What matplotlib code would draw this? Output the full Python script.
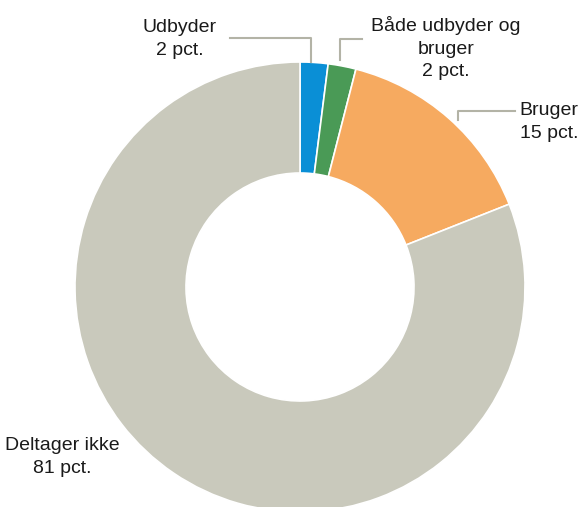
import matplotlib
matplotlib.use("Agg")
import matplotlib.pyplot as plt
from matplotlib import font_manager

labels = ["Udbyder", "Både udbyder og\nbruger", "Bruger", "Deltager ikke"]
values = [2, 2, 15, 81]
colors = ["#0a8fd6", "#4a9a56", "#f6aa60", "#c9c9bc"]

names = [f.name for f in font_manager.fontManager.ttflist]
fam = "Liberation Sans Narrow" if "Liberation Sans Narrow" in names else "Liberation Sans"
plt.rcParams["font.family"] = [fam, "DejaVu Sans"]

fig = plt.figure(figsize=(5.82, 5.07), dpi=100)
ax = fig.add_axes([0, 0, 1, 1])
H = 507
cx, cy, R = 300, H - 287, 225

ax.pie(values, colors=colors, startangle=90, counterclock=False,
       center=(cx, cy), radius=R,
       wedgeprops=dict(width=R - 114, edgecolor="white", linewidth=1.2))

ax.set_xlim(0, 582)
ax.set_ylim(0, H)
ax.set_aspect("auto")
ax.axis("off")

# leader lines
lc = "#b3b3a6"
ax.plot([230, 311, 311], [H - 38, H - 38, H - 62], color=lc, lw=1.5)
ax.plot([362, 340, 340], [H - 39, H - 39, H - 60], color=lc, lw=1.5)
ax.plot([515, 458, 458], [H - 111, H - 111, H - 120], color=lc, lw=1.5)

fs = 14
texts = [
    (180, 39, labels[0] + f"\n{values[0]} pct.", "center"),
    (446, 48, labels[1] + f"\n{values[1]} pct.", "center"),
    (578, 122, labels[2] + f"\n{values[2]} pct.", "right"),
    (62, 457, labels[3] + f"\n{values[3]} pct.", "center"),
]
for x, y, s, ha in texts:
    ax.text(x, H - y, s, ha=ha, va="center", fontsize=fs, color="#1a1a1a",
            linespacing=1.4, multialignment="center" if ha == "center" else "right")

fig.savefig("out.png", dpi=100)
